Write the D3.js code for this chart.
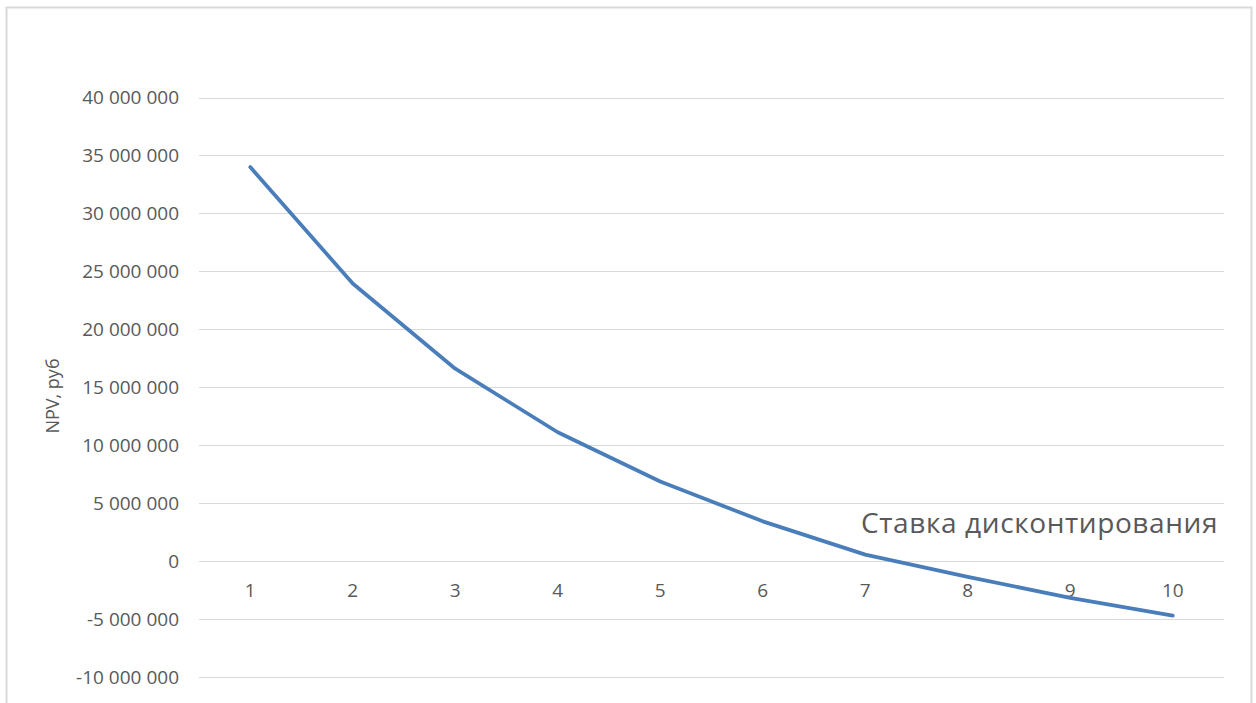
<!DOCTYPE html>
<html>
<head>
<meta charset="utf-8">
<script src="https://cdn.jsdelivr.net/npm/d3@7"></script>
<style>
  html, body { margin: 0; padding: 0; background: #fff; }
  svg { display: block; }
</style>
</head>
<body>
<svg id="chart" width="1256" height="703"></svg>
<script>
// Discount rate categories and NPV values (rubles)
const categories = ["1", "2", "3", "4", "5", "6", "7", "8", "9", "10"];
const npvValues = [34000000, 23950000, 16600000, 11120000, 6870000, 3430000, 560000, -1360000, -3170000, -4700000];
const yTicks = [-10000000, -5000000, 0, 5000000, 10000000, 15000000, 20000000, 25000000, 30000000, 35000000, 40000000];

const width = 1256, height = 703;
const margin = { left: 199, right: 32 };
const svg = d3.select("#chart");
const font = "'Open Sans', sans-serif";
const textColor = "#595959";

// Outer chart frame
svg.append("rect")
  .attr("x", 6.5).attr("y", 7.5)
  .attr("width", 1245).attr("height", 720)
  .attr("fill", "#fff")
  .attr("stroke", "#d9d9d9").attr("stroke-width", 2);

const x = d3.scaleBand()
  .domain(categories)
  .range([margin.left, width - margin.right]);

const y = d3.scaleLinear()
  .domain([-10000000, 40000000])
  .range([677, 97.5]);

const fmt = v => d3.format(",")(v).replace(/,/g, " ").replace("−", "-");

// Horizontal gridlines
svg.append("g")
  .selectAll("line")
  .data(yTicks)
  .join("line")
  .attr("x1", margin.left).attr("x2", width - margin.right)
  .attr("y1", d => Math.round(y(d)) + 0.5).attr("y2", d => Math.round(y(d)) + 0.5)
  .attr("stroke", "#d9d9d9").attr("stroke-width", 1);

// Y axis tick labels
const yAxis = d3.axisLeft(y).tickValues(yTicks).tickFormat(fmt).tickSize(0).tickPadding(0);
const gy = svg.append("g").attr("transform", "translate(179,0)").call(yAxis);
gy.select(".domain").remove();
gy.selectAll("text")
  .attr("fill", textColor)
  .style("font-family", font)
  .style("font-size", "19px");

// Category labels, placed just below the zero line
const xAxis = d3.axisBottom(x).tickSize(0).tickPadding(0);
const gx = svg.append("g").attr("transform", `translate(0,${y(0)})`).call(xAxis);
gx.select(".domain").remove();
gx.selectAll("text")
  .attr("dy", "0")
  .attr("y", 35.5)
  .attr("fill", textColor)
  .style("font-family", font)
  .style("font-size", "19px");

// NPV line
const line = d3.line()
  .x((d, i) => x(categories[i]) + x.bandwidth() / 2)
  .y(d => y(d));

svg.append("path")
  .datum(npvValues)
  .attr("d", line)
  .attr("fill", "none")
  .attr("stroke", "#4a7ebb")
  .attr("stroke-width", 3.75)
  .attr("stroke-linejoin", "round")
  .attr("stroke-linecap", "round");

// Axis titles
svg.append("text")
  .attr("transform", "translate(59,396) rotate(-90)")
  .attr("text-anchor", "middle")
  .attr("fill", textColor)
  .style("font-family", font)
  .style("font-size", "18px")
  .text("NPV, руб");

svg.append("text")
  .attr("x", 1218).attr("y", 533)
  .attr("text-anchor", "end")
  .attr("fill", textColor)
  .style("font-family", font)
  .style("font-size", "28px")
  .style("letter-spacing", "0.6px")
  .text("Ставка дисконтирования");
</script>
</body>
</html>
